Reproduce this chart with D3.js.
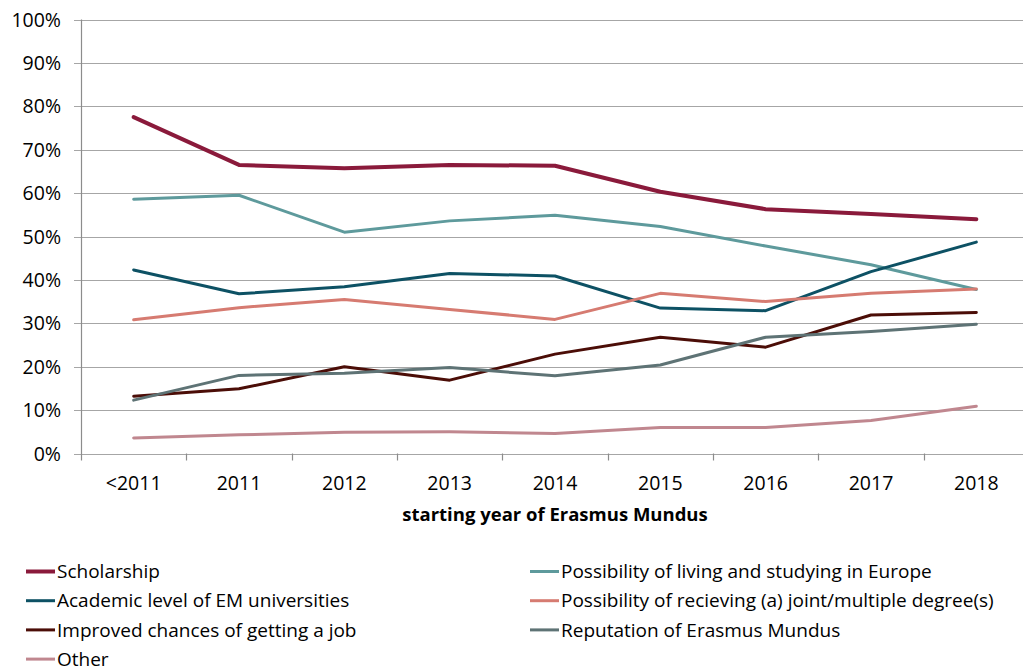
<!DOCTYPE html>
<html>
<head>
<meta charset="utf-8">
<script src="https://cdn.jsdelivr.net/npm/d3@7"></script>
<style>
  body { margin: 0; background: #fff; }
  text { font-family: "Open Sans", "Noto Sans", sans-serif; fill: #000; }
</style>
</head>
<body>
<div id="chart"></div>
<script>
// categories and tick labels
var years = ["<2011", "2011", "2012", "2013", "2014", "2015", "2016", "2017", "2018"]
var yTicks = [0, 10, 20, 30, 40, 50, 60, 70, 80, 90, 100]

// series values (percent)
var scholarship = [77.5, 66.5, 65.7, 66.5, 66.3, 60.3, 56.3, 55.2, 54.0]
var europe      = [58.6, 59.5, 51.0, 53.6, 54.9, 52.3, 47.8, 43.5, 37.8]
var academic    = [42.3, 36.8, 38.4, 41.5, 40.9, 33.5, 32.9, 41.9, 48.7]
var jointDegree = [30.8, 33.6, 35.5, 33.2, 30.9, 36.9, 35.0, 36.9, 37.9]
var job         = [13.2, 14.9, 20.0, 16.9, 22.9, 26.8, 24.5, 31.9, 32.5]
var reputation  = [12.3, 18.0, 18.5, 19.8, 17.9, 20.4, 26.8, 28.1, 29.8]
var other       = [3.6, 4.3, 4.9, 5.0, 4.6, 6.0, 6.0, 7.6, 10.9]

var seriesNames = ["Scholarship", "Possibility of living and studying in Europe",
  "Academic level of EM universities", "Possibility of recieving (a) joint/multiple degree(s)",
  "Improved chances of getting a job", "Reputation of Erasmus Mundus", "Other"]

var series = [
  {name: seriesNames[0], values: scholarship, color: "#8a1a3b", w: 4},
  {name: seriesNames[1], values: europe, color: "#5e9a9c", w: 3},
  {name: seriesNames[2], values: academic, color: "#0d5164", w: 3},
  {name: seriesNames[3], values: jointDegree, color: "#d67b71", w: 3},
  {name: seriesNames[4], values: job, color: "#4b0d07", w: 3},
  {name: seriesNames[5], values: reputation, color: "#5e7375", w: 3},
  {name: seriesNames[6], values: other, color: "#c0878f", w: 3}
]

var width = 1023,
    height = 671

// plot area edges
var plotLeft = 81, plotRight = 1029, plotTop = 19.5, plotBottom = 453.5

var svg = d3.select("#chart")
  .append("svg")
    .attr("width", width)
    .attr("height", height)

var x = d3.scaleBand()
  .domain(years)
  .range([plotLeft, plotRight])

var y = d3.scaleLinear()
  .domain([0, 100])
  .range([plotBottom, plotTop])

// horizontal gridlines + y tick marks
svg.append("g")
  .selectAll("line")
  .data(yTicks)
  .enter()
  .append("line")
    .attr("x1", plotLeft - 7)
    .attr("x2", width)
    .attr("y1", function(d) { return Math.round(y(d)) + 0.5 })
    .attr("y2", function(d) { return Math.round(y(d)) + 0.5 })
    .attr("stroke", "#a6a6a6")
    .attr("stroke-width", 1.2)

// y labels
svg.append("g")
  .selectAll("text")
  .data(yTicks)
  .enter()
  .append("text")
    .attr("x", 61)
    .attr("y", function(d) { return y(d) })
    .attr("dy", "0.36em")
    .attr("text-anchor", "end")
    .style("font-size", "19.5px")
    .text(function(d) { return d + "%" })

// y axis line
svg.append("line")
  .attr("x1", plotLeft + 0.5).attr("x2", plotLeft + 0.5)
  .attr("y1", plotTop).attr("y2", plotBottom + 7)
  .attr("stroke", "#8c8c8c")
  .attr("stroke-width", 1.2)

// x axis ticks at band boundaries
svg.append("g")
  .selectAll("line")
  .data(years)
  .enter()
  .append("line")
    .attr("x1", function(d) { return Math.round(x(d) + x.bandwidth()) + 0.5 })
    .attr("x2", function(d) { return Math.round(x(d) + x.bandwidth()) + 0.5 })
    .attr("y1", plotBottom)
    .attr("y2", plotBottom + 7)
    .attr("stroke", "#8c8c8c")
    .attr("stroke-width", 1.2)

// x labels
svg.append("g")
  .selectAll("text")
  .data(years)
  .enter()
  .append("text")
    .attr("x", function(d) { return x(d) + x.bandwidth() / 2 })
    .attr("y", 490)
    .attr("text-anchor", "middle")
    .style("font-size", "19.5px")
    .text(function(d) { return d })

// x axis title
svg.append("text")
  .attr("x", 555)
  .attr("y", 521)
  .attr("text-anchor", "middle")
  .style("font-size", "18.5px")
  .style("font-weight", "bold")
  .text("starting year of Erasmus Mundus")

// lines
var line = d3.line()
  .x(function(d, i) { return x(years[i]) + x.bandwidth() / 2 })
  .y(function(d) { return y(d) })

svg.append("g")
  .selectAll("path")
  .data(series)
  .enter()
  .append("path")
    .attr("d", function(s) { return line(s.values) })
    .attr("fill", "none")
    .attr("stroke", function(s) { return s.color })
    .attr("stroke-width", function(s) { return s.w })
    .attr("stroke-linejoin", "round")
    .attr("stroke-linecap", "round")

// legend: two columns, left column items 0,2,4,6 right column 1,3,5
var legend = svg.append("g")
  .selectAll("g")
  .data(series)
  .enter()
  .append("g")
    .attr("transform", function(s, i) {
      var col = i % 2, row = Math.floor(i / 2)
      return "translate(" + (col ? 530 : 26) + "," + (571.5 + row * 29.2) + ")"
    })

legend.append("line")
  .attr("x1", 0).attr("x2", 29)
  .attr("y1", 0).attr("y2", 0)
  .attr("stroke", function(s) { return s.color })
  .attr("stroke-width", function(s) { return s.w })

legend.append("text")
  .attr("x", 31)
  .attr("dy", "0.35em")
  .style("font-size", "19px")
  .text(function(s) { return s.name })
</script>
</body>
</html>
